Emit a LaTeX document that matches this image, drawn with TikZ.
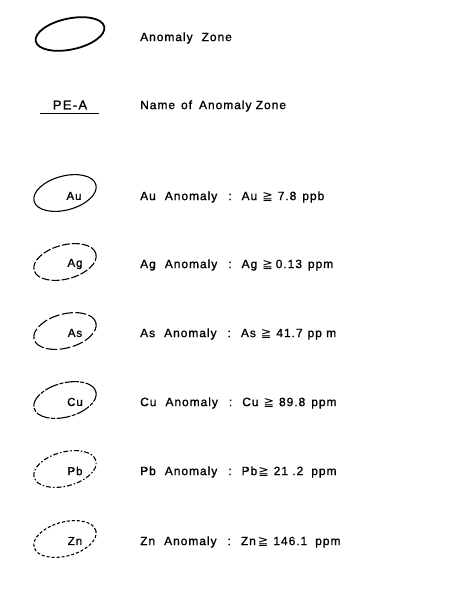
\documentclass[tikz,border=0pt]{standalone}
\usepackage{fontspec}
\setmainfont[LetterSpace=8, FakeBold=1.2]{Liberation Sans}
\newfontfamily\symfont{DejaVu Sans}
\usepackage{tikz}
\usetikzlibrary{shapes.geometric, positioning}
\tikzstyle{zone} = [ellipse, draw, rotate=15, minimum width=64pt, minimum height=34pt, inner sep=0pt, line width=1.1pt]
\tikzstyle{mainzone} = [ellipse, draw, rotate=12, minimum width=70pt, minimum height=31pt, inner sep=0pt, line width=1.8pt]
\tikzstyle{tag} = [inner sep=0pt, font=\fontsize{11.5}{13}\selectfont]
\tikzstyle{desc} = [anchor=west, inner sep=0pt, font=\fontsize{12}{14}\selectfont]
\newcommand{\gesym}{{\symfont\fontsize{12.5}{14}\selectfont ≧}}

\begin{document}
\begin{tikzpicture}[x=1pt, y=-1pt]
\useasboundingbox (0,0) rectangle (453,608);

% Anomaly zone and zone name
\node[mainzone] (zone) at (70,34) {};
\node[desc] (zone_text) at (140,38) {Anomaly\hspace{9pt}Zone};
\node[inner sep=1pt, font=\fontsize{13}{15}\selectfont\addfontfeature{LetterSpace=10}] (pea) at (70,105) {PE-A};
\coordinate (pea_l) at (40,113);
\coordinate (pea_r) at (99,113);
\draw[line width=1pt] (pea_l) -- (pea_r);
\node[desc] (pea_text) at (140,106) {Name\hspace{6pt}of\hspace{7pt}Anomaly Zone};

% Element anomalies
\node[zone] (zone_au) at (65,193) {};
\node[tag] (tag_au) at (74,196) {Au};
\node[desc] (text_au) at (140,197) {Au\hspace{9pt}Anomaly\hspace{11pt}:\hspace{10pt}Au\hspace{5pt}\gesym\hspace{5pt}7.8\hspace{6pt}ppb};

\node[zone, dash pattern=on 8pt off 2pt] (zone_ag) at (65,262) {};
\node[tag] (tag_ag) at (75,264) {Ag};
\node[desc] (text_ag) at (140,265) {Ag\hspace{9pt}Anomaly\hspace{11pt}:\hspace{10pt}Ag\hspace{5pt}\gesym\hspace{3pt}0.13\hspace{6pt}ppm};

\node[zone, dash pattern=on 11pt off 2.5pt] (zone_as) at (65,331) {};
\node[tag] (tag_as) at (75,333) {As};
\node[desc] (text_as) at (140,334) {As\hspace{9pt}Anomaly\hspace{11pt}:\hspace{10pt}As\hspace{5pt}\gesym\hspace{5pt}41.7\hspace{5pt}pp m};

\node[zone, dash pattern=on 14pt off 1.5pt on 4pt off 1.5pt] (zone_cu) at (65,400) {};
\node[tag] (tag_cu) at (75,402) {Cu};
\node[desc] (text_cu) at (140,403) {Cu\hspace{9pt}Anomaly\hspace{11pt}:\hspace{10pt}Cu\hspace{5pt}\gesym\hspace{5pt}89.8\hspace{6pt}ppm};

\node[zone, dash pattern=on 5pt off 2pt on 1.5pt off 2pt] (zone_pb) at (65,469) {};
\node[tag] (tag_pb) at (75,471) {Pb};
\node[desc] (text_pb) at (140,472) {Pb\hspace{9pt}Anomaly\hspace{11pt}:\hspace{10pt}Pb\hspace{1pt}\gesym\hspace{5pt}21 .2\hspace{8pt}ppm};

\node[zone, dash pattern=on 3pt off 2pt] (zone_zn) at (65,539) {};
\node[tag] (tag_zn) at (75,541) {Zn};
\node[desc] (text_zn) at (140,542) {Zn\hspace{9pt}Anomaly\hspace{11pt}:\hspace{10pt}Zn\hspace{2pt}\gesym\hspace{5pt}146.1\hspace{8pt}ppm};

\end{tikzpicture}
\end{document}
